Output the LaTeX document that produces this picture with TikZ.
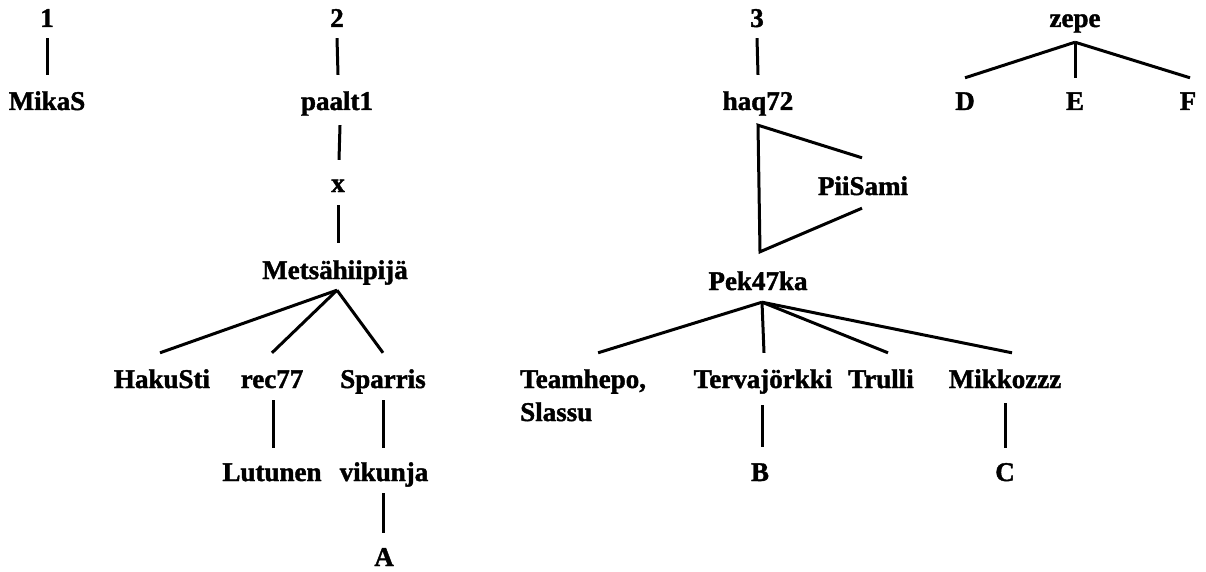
\documentclass[tikz,border=0pt]{standalone}
\usepackage{fontspec}
\setmainfont{Liberation Serif}[BoldFeatures={FakeBold=1.5}]
\usetikzlibrary{calc}
\tikzset{
  lbl/.style={font=\fontsize{27}{30}\selectfont\bfseries, inner sep=0pt, text height=18pt, text depth=6pt, anchor=base},
  edge/.style={line width=3pt}
}
\begin{document}
\begin{tikzpicture}[x=1pt,y=-1pt]
\useasboundingbox (0,0) rectangle (1206,572);
% tree 1
\node[lbl] (n1) at (47,27) {1};
\node[lbl] (mikas) at (47,110) {MikaS};
% tree 2
\node[lbl] (n2) at (337,27) {2};
\node[lbl] (paalt) at (337,110) {paalt1};
\node[lbl] (x) at (338,192) {x};
\node[lbl] (mets) at (335,279) {Metsähiipijä};
\node[lbl] (haku) at (162,388) {HakuSti};
\node[lbl] (rec) at (272,388) {rec77};
\node[lbl] (spar) at (383,388) {Sparris};
\node[lbl] (lut) at (272,481) {Lutunen};
\node[lbl] (vik) at (384,481) {vikunja};
\node[lbl] (A) at (384,566) {A};
% tree 3
\node[lbl] (n3) at (757,27) {3};
\node[lbl] (haq) at (758,110) {haq72};
\node[lbl] (pii) at (863,195) {PiiSami};
\node[lbl] (pek) at (758,290) {Pek47ka};
\node[lbl, anchor=base west] (team) at (520,388) {Teamhepo,};
\node[lbl, anchor=base west] (slassu) at (520,421) {Slassu};
\node[lbl] (terv) at (763,388) {Tervajörkki};
\node[lbl] (trul) at (881,388) {Trulli};
\node[lbl] (mikk) at (1005,388) {Mikkozzz};
\node[lbl] (B) at (760,481) {B};
\node[lbl] (C) at (1005,481) {C};
% tree 4
\node[lbl] (zepe) at (1075,27) {zepe};
\node[lbl] (D) at (965,110) {D};
\node[lbl] (E) at (1075,110) {E};
\node[lbl] (F) at (1188,110) {F};

% connectors
\draw[edge] ($(n1.south)+(0,5)$) -- ($(mikas.north)+(0,-17)$);
\draw[edge] ($(n2.south)+(0,5)$) -- ($(paalt.north)+(1,-17)$);
\draw[edge] ($(paalt.south)+(3,9)$) -- ($(x.north)+(1,-14)$);
\draw[edge] ($(x.south)+(0,7)$) -- ($(mets.north)+(3,-18)$);
\coordinate (mf) at ($(mets.south)+(2,5)$);
\draw[edge] (mf) -- ($(haku.north)+(-2,-17)$);
\draw[edge] (mf) -- ($(rec.north)+(0,-17)$);
\draw[edge] (mf) -- ($(spar.north)+(0,-17)$);
\draw[edge] ($(rec.south)+(1,6)$) -- ($(lut.north)+(1,-15)$);
\draw[edge] ($(spar.south)+(0,6)$) -- ($(vik.north)+(-1,-15)$);
\draw[edge] ($(vik.south)+(-1,6)$) -- ($(A.north)+(-1,-15)$);

\draw[edge] ($(n3.south)+(0,5)$) -- ($(haq.north)+(0,-17)$);
\coordinate (ht) at ($(haq.south)+(0,9)$);
\coordinate (pb) at ($(pek.north)+(2,-20)$);
\draw[edge, line join=miter] ($(pii.north)+(-1,-19)$) -- (ht) -- (pb) -- ($(pii.south)+(-1,7)$);
\coordinate (pf) at ($(pek.south)+(4,6)$);
\draw[edge] (pf) -- ($(team.north)+(15,-17)$);
\draw[edge] (pf) -- ($(terv.north)+(1,-17)$);
\draw[edge] (pf) -- ($(trul.north)+(7,-17)$);
\draw[edge] (pf) -- ($(mikk.north)+(7,-17)$);
\draw[edge] ($(terv.south)+(-1,11)$) -- ($(B.north)+(2,-16)$);
\draw[edge] ($(mikk.south)+(0,9)$) -- ($(C.north)+(0,-15)$);

\coordinate (zf) at ($(zepe.south)+(0,9)$);
\draw[edge] (zf) -- ($(D.north)+(0,-14)$);
\draw[edge] (zf) -- ($(E.north)+(0,-14)$);
\draw[edge] (zf) -- ($(F.north)+(2,-14)$);
\end{tikzpicture}
\end{document}
